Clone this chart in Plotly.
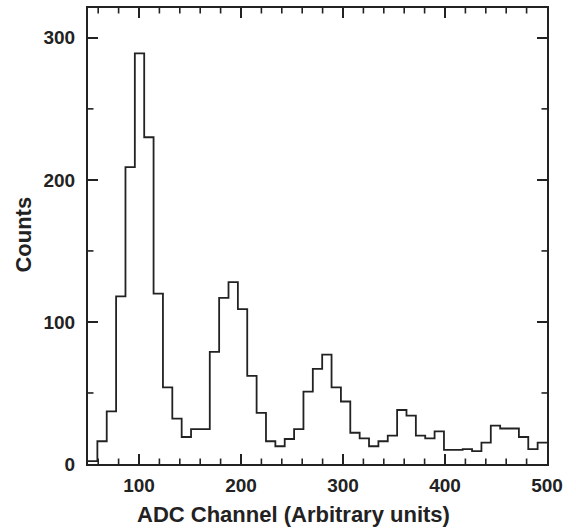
import numpy as np
import plotly.graph_objects as go

# Histogram data (ADC channel spectrum)
bin_start = 50.0
bin_end = 500.0
n_bins = 49
counts = [2, 16, 37, 118, 209, 289, 230, 120, 54, 32,
          19, 24.5, 24.5, 79, 117, 128, 109, 62, 36, 16,
          12.5, 17.6, 24.6, 51, 67, 77, 54, 44, 22, 18,
          12.5, 16, 20, 38, 34, 20, 18, 23, 10, 10,
          10.5, 9, 15, 27, 25, 25, 19, 10.5, 15]
x_ticks = [100, 200, 300, 400, 500]
y_ticks = [0, 100, 200, 300]
x_minor_step = 20
y_minor_step = 50
x_range = [bin_start, bin_end]
y_range = [0, 321]

edges = np.linspace(bin_start, bin_end, n_bins + 1)
ys = list(counts) + [counts[-1]]

ink = "#222222"
font = dict(family="Liberation Sans, Arial, sans-serif", size=19, color=ink, weight="bold")

fig = go.Figure()
fig.add_trace(go.Scatter(x=edges, y=ys, mode="lines", line=dict(shape="hv", color=ink, width=1.8),
                         hoverinfo="skip", showlegend=False))
fig.add_trace(go.Scatter(x=[x_range[0]], y=[y_range[0]], xaxis="x2", yaxis="y2", mode="markers",
                         marker=dict(opacity=0), hoverinfo="skip", showlegend=False))

base = dict(showline=True, linewidth=2, linecolor=ink, ticks="inside", tickcolor=ink,
            ticklen=10, tickwidth=2, showgrid=False, zeroline=False, tickfont=font)

fig.update_layout(
    xaxis=dict(range=x_range, tickvals=x_ticks, ticklabelstandoff=3, **base),
    yaxis=dict(range=y_range, tickvals=y_ticks, ticklabelstandoff=7, **base),
    xaxis2=dict(range=x_range, tickvals=x_ticks, overlaying="x", side="top", anchor="y2",
                showticklabels=False, **base),
    yaxis2=dict(range=y_range, tickvals=y_ticks, overlaying="y", side="right", anchor="x2",
                showticklabels=False, **base),
)

# minor ticks (inside, on all four sides)
W, H = 576, 530
ml, mr, mt, mb = 88, 29, 8, 66
plot_w = W - ml - mr
plot_h = H - mt - mb
minor_len = 5.5
tick_line = dict(color=ink, width=1.6)
x_minor = [v for v in np.arange(0, x_range[1] + 1, x_minor_step)
           if x_range[0] < v < x_range[1] and v not in x_ticks]
y_minor = [v for v in np.arange(0, y_range[1], y_minor_step)
           if y_range[0] < v < y_range[1] and v not in y_ticks]
fx = minor_len / plot_h
fy = minor_len / plot_w
for v in x_minor:
    fig.add_shape(type="line", xref="x", yref="y domain", x0=v, x1=v, y0=0, y1=fx, line=tick_line)
    fig.add_shape(type="line", xref="x", yref="y domain", x0=v, x1=v, y0=1 - fx, y1=1, line=tick_line)
for v in y_minor:
    fig.add_shape(type="line", xref="x domain", yref="y", x0=0, x1=fy, y0=v, y1=v, line=tick_line)
    fig.add_shape(type="line", xref="x domain", yref="y", x0=1 - fy, x1=1, y0=v, y1=v, line=tick_line)

title_font = dict(family="Liberation Sans, Arial, sans-serif", size=22, color=ink, weight="bold")
fig.add_annotation(text="ADC Channel (Arbitrary units)", xref="paper", yref="paper",
                   x=0.448, y=-0.11, xanchor="center", yanchor="middle", showarrow=False, font=title_font)
fig.add_annotation(text="Counts", xref="paper", yref="paper", textangle=-90,
                   x=-0.14, y=0.5025, xanchor="center", yanchor="middle", showarrow=False, font=title_font)

fig.update_layout(width=W, height=H, margin=dict(l=ml, r=mr, t=mt, b=mb),
                  plot_bgcolor="white", paper_bgcolor="white")

fig.write_html("out.html")
